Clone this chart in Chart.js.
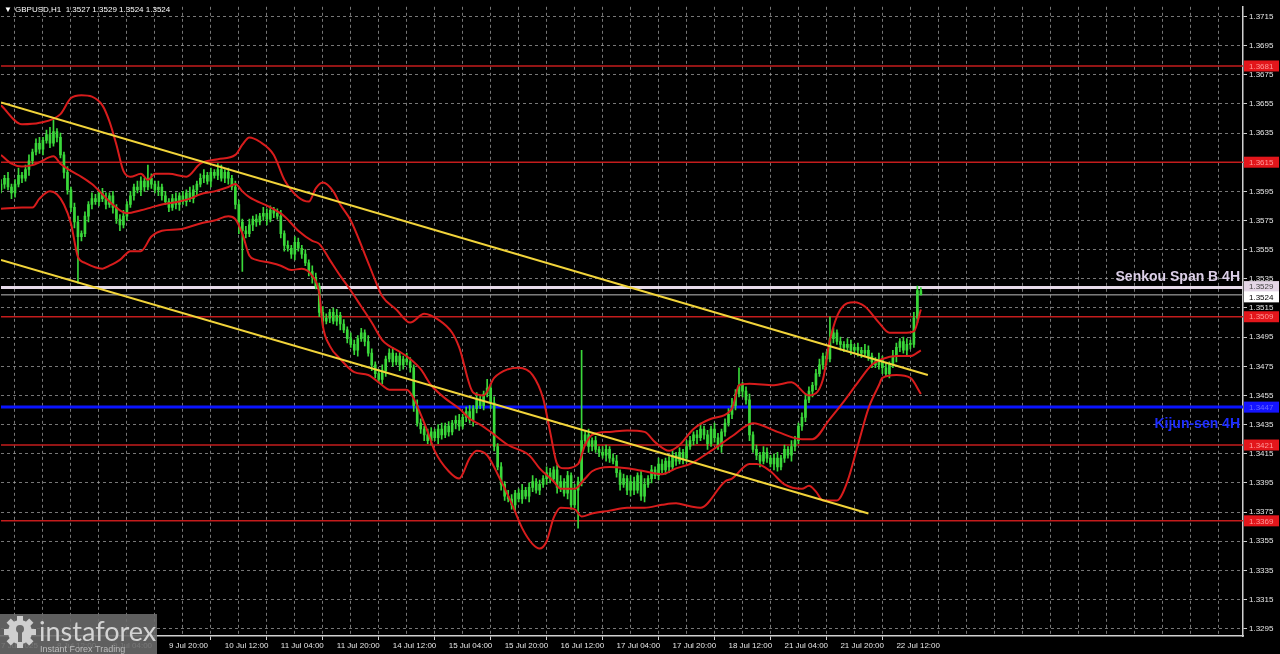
<!DOCTYPE html>
<html>
<head>
<meta charset="utf-8">
<script src="https://cdn.jsdelivr.net/npm/chart.js@4.4.1/dist/chart.umd.min.js"></script>
<style>
  html, body { margin: 0; padding: 0; background: #000; }
  #wrap { width: 1280px; height: 654px; }
</style>
</head>
<body>
<div id="wrap"><canvas id="grafico" width="1280" height="654"></canvas></div>
<script>
// GBPUSD H1, prices in pips above 1.3000
const firstOpenPips = 596;
const closePips = [
  600, 604, 598, 594, 600, 606, 604, 610, 616, 622,
  628, 624, 630, 634, 628, 636, 632, 620, 608, 596,
  584, 574, 564, 566, 578, 586, 590, 588, 594, 590,
  586, 592, 584, 576, 572, 578, 586, 592, 598, 596,
  602, 598, 604, 600, 596, 598, 592, 588, 584, 590,
  586, 592, 588, 594, 590, 596, 600, 604, 606, 602,
  608, 606, 610, 604, 608, 604, 598, 586, 574, 568,
  566, 572, 576, 574, 578, 580, 576, 582, 580, 578,
  566, 558, 556, 552, 560, 556, 552, 546, 540, 536,
  530, 512, 506, 508, 512, 506, 510, 504, 500, 494,
  490, 486, 494, 498, 492, 484, 476, 470, 466, 472,
  480, 484, 478, 482, 476, 480, 478, 474, 448, 436,
  432, 428, 424, 430, 426, 432, 428, 434, 430, 436,
  438, 434, 440, 444, 438, 446, 452, 448, 456, 460,
  450, 420, 406, 394, 386, 384, 380, 388, 384, 390,
  386, 392, 396, 390, 394, 398, 402, 398, 404, 392,
  396, 388, 400, 380, 390, 396, 424, 428, 420, 424,
  418, 416, 414, 418, 412, 410, 402, 394, 398, 390,
  396, 390, 400, 386, 394, 398, 404, 400, 408, 404,
  410, 406, 414, 410, 416, 412, 420, 424, 428, 426,
  432, 428, 422, 432, 426, 420, 430, 436, 442, 448,
  456, 462, 458, 452, 428, 418, 414, 410, 416, 412,
  408, 412, 406, 412, 418, 414, 420, 424, 434, 440,
  452, 458, 462, 470, 476, 482, 480, 494, 498, 492,
  490, 488, 490, 486, 488, 486, 484, 486, 482, 478,
  476, 480, 474, 470, 476, 482, 488, 492, 486, 490,
  490, 508, 527, 524
];
const wickUp = [
  3,2,4,2,3,5,2,3,4,2, 3,4,2,3,5,8,2,3,2,4, 2,3,4,2,3,2,4,3,2,3, 4,2,3,2,3,4,2,3,2,4,
  3,2,9,3,2,4,2,3,2,3, 4,2,3,2,4,3,2,3,4,2, 3,2,4,3,2,3,2,4,3,2, 3,4,2,3,2,4,3,3,2,3,
  4,2,3,2,4,3,2,3,2,4, 3,2,4,3,2,3,4,2,3,2, 4,3,2,3,2,4,3,2,3,4, 2,3,4,2,3,2,4,3,2,4,
  3,2,4,3,2,3,4,2,3,2, 3,4,2,3,4,2,5,3,2,6, 3,4,2,3,2,4,3,2,3,4, 2,3,4,2,3,2,4,3,2,3,
  4,2,3,2,4,3,62,3,4,2, 3,2,4,3,2,3,4,2,3,2, 4,3,2,3,4,2,3,2,4,3, 2,3,4,2,3,2,4,3,2,3,
  4,2,3,2,4,3,2,3,4,5, 3,12,2,3,4,2,3,2,4,3, 2,3,4,2,3,2,4,3,2,3, 4,3,2,3,4,2,3,15,3,2,
  3,2,4,3,2,3,2,4,3,2, 3,4,2,3,2,4,3,2,3,4, 3,4,3,2
];
const wickDn = [
  2,3,2,4,3,2,3,2,4,3, 2,3,4,2,3,2,3,2,4,3, 3,4,32,3,2,4,3,2,3,2, 3,2,4,3,4,2,3,2,3,2,
  4,3,2,3,2,4,3,2,3,2, 3,4,2,3,2,3,4,2,3,2, 4,2,3,2,3,4,2,3,8,28, 3,2,4,3,2,3,4,2,3,2,
  3,4,2,3,4,2,3,2,3,4, 2,3,4,2,3,2,3,4,2,3, 2,3,4,2,3,2,4,3,2,3, 4,2,3,2,4,3,2,3,4,2,
  3,4,2,3,2,4,3,2,3,2, 4,3,2,3,2,4,3,2,3,2, 4,3,2,4,3,2,3,4,2,3, 2,4,3,2,3,2,4,3,2,4,
  3,2,4,3,2,26,3,2,4,3, 2,3,2,4,3,2,3,4,2,3, 4,3,2,3,4,2,3,2,3,2, 3,4,2,3,2,4,3,2,3,4,
  2,3,4,2,3,2,4,3,2,3, 3,2,4,3,4,2,3,4,2,3, 2,4,3,2,3,2,4,3,2,3, 3,2,4,3,2,3,4,2,3,2,
  4,3,2,3,2,4,3,2,3,4, 2,3,4,2,3,2,4,3,2,3, 3,2,3,0
];

// bands: [bar, price]
const upperBand = [[0,1.3654],[6,1.3641],[11,1.3642],[17,1.3648],[20,1.3659],[23,1.3661],[26,1.3660],[29,1.3654],[31,1.3643],[33,1.3627],[35,1.3609],[37,1.3605],[40,1.3607],[42,1.3603],[44,1.3607],[48,1.3607],[53,1.3605],[57,1.3614],[62,1.3617],[67,1.3620],[69,1.3627],[71,1.3632],[74,1.3629],[78,1.3620],[81,1.3603],[85,1.3591],[88,1.3588],[90,1.3597],[92,1.3601],[95,1.3595],[97,1.3586],[100,1.3575],[104,1.3552],[107,1.3534],[109,1.3523],[113,1.3514],[117,1.3505],[121,1.3511],[125,1.3507],[129,1.3498],[131,1.3488],[135,1.3457],[138,1.3455],[141,1.3467],[145,1.3473],[148,1.3474],[152,1.3469],[155,1.3453],[157,1.3430],[159,1.3408],[161,1.3405],[165,1.3408],[167,1.3421],[169,1.3428],[174,1.3430],[179,1.3431],[184,1.3430],[187,1.3423],[191,1.3417],[194,1.3421],[198,1.3432],[203,1.3439],[209,1.3446],[211,1.3462],[214,1.3463],[221,1.3462],[226,1.3464],[231,1.3455],[235,1.3466],[237,1.3493],[240,1.3514],[244,1.3519],[247,1.3516],[251,1.3505],[254,1.3498],[258,1.3498],[261,1.3499],[263,1.3514]];
const midBand = [[0,1.3620],[3,1.3614],[6,1.3612],[9,1.3613],[11,1.3615],[15,1.3619],[17,1.3614],[20,1.3609],[23,1.3605],[26,1.3600],[29,1.3593],[31,1.3588],[34,1.3582],[36,1.3580],[40,1.3582],[43,1.3584],[46,1.3586],[51,1.3588],[54,1.3590],[57,1.3593],[61,1.3595],[65,1.3598],[67,1.3600],[69,1.3595],[71,1.3591],[77,1.3584],[81,1.3578],[85,1.3568],[89,1.3561],[91,1.3559],[94,1.3548],[97,1.3537],[100,1.3527],[103,1.3516],[106,1.3505],[109,1.3493],[111,1.3489],[114,1.3485],[117,1.3480],[120,1.3473],[123,1.3462],[127,1.3453],[131,1.3446],[134,1.3439],[137,1.3435],[140,1.3430],[145,1.3421],[151,1.3414],[154,1.3405],[158,1.3396],[160,1.3391],[164,1.3391],[167,1.3398],[169,1.3403],[174,1.3406],[179,1.3405],[184,1.3403],[189,1.3401],[193,1.3405],[197,1.3408],[203,1.3417],[209,1.3427],[215,1.3436],[222,1.3430],[229,1.3425],[232,1.3425],[237,1.3439],[241,1.3451],[245,1.3464],[249,1.3476],[252,1.3480],[256,1.3482],[260,1.3482],[263,1.3486]];
const lowBand = [[0,1.3583],[6,1.3584],[9,1.3584],[11,1.3590],[14,1.3595],[16,1.3593],[18,1.3586],[20,1.3573],[22,1.3550],[24,1.3546],[29,1.3542],[31,1.3544],[34,1.3548],[37,1.3554],[40,1.3554],[43,1.3564],[46,1.3568],[51,1.3569],[57,1.3573],[61,1.3575],[65,1.3578],[67,1.3576],[69,1.3566],[71,1.3551],[73,1.3548],[77,1.3546],[80,1.3544],[83,1.3541],[86,1.3542],[89,1.3537],[91,1.3525],[92,1.3503],[94,1.3489],[97,1.3480],[101,1.3471],[105,1.3469],[109,1.3462],[111,1.3459],[116,1.3459],[118,1.3453],[120,1.3442],[122,1.3430],[124,1.3417],[128,1.3403],[131,1.3398],[134,1.3412],[136,1.3417],[139,1.3414],[142,1.3401],[146,1.3381],[149,1.3364],[152,1.3353],[154,1.3350],[156,1.3355],[158,1.3371],[160,1.3378],[164,1.3377],[166,1.3372],[169,1.3374],[174,1.3376],[179,1.3378],[184,1.3378],[189,1.3380],[193,1.3381],[197,1.3379],[200,1.3378],[207,1.3396],[209,1.3398],[214,1.3408],[216,1.3408],[220,1.3403],[224,1.3394],[229,1.3391],[231,1.3393],[233,1.3389],[235,1.3383],[239,1.3383],[242,1.3396],[245,1.3421],[248,1.3446],[251,1.3462],[252,1.3467],[256,1.3469],[260,1.3467],[263,1.3456]];

// trend channel: [bar, price] ends
const channelTop = [[0, 1.3656], [265, 1.3469]];
const channelBottom = [[0, 1.3548], [248, 1.3374]];

const redLevels = [1.3681, 1.3615, 1.3509, 1.3421, 1.3369];
const kijunLevel = 1.3447;
const senkouLevel = 1.3529;
const lastPrice = 1.3524;

const priceTicks = [1.3295, 1.3315, 1.3335, 1.3355, 1.3375, 1.3395, 1.3415, 1.3435, 1.3455, 1.3475, 1.3495,
  1.3515, 1.3535, 1.3555, 1.3575, 1.3595, 1.3615, 1.3635, 1.3655, 1.3675, 1.3695, 1.3715];
// one label every 16 bars from bar 0
const timeLabels = ['7 Jul 2025', '8 Jul 12:00', '9 Jul 04:00', '9 Jul 20:00', '10 Jul 12:00', '11 Jul 04:00',
  '11 Jul 20:00', '14 Jul 12:00', '15 Jul 04:00', '15 Jul 20:00', '16 Jul 12:00', '17 Jul 04:00',
  '17 Jul 20:00', '18 Jul 12:00', '21 Jul 04:00', '21 Jul 20:00', '22 Jul 12:00'];
const titleText = 'GBPUSD,H1  1.3527 1.3529 1.3524 1.3524';

const slotCount = 355.1;
const candleColor = '#3ad83a';
const axisFont = { family: 'Liberation Sans', size: 8 };

const toPrice = p => 1.3 + p / 10000;
const opens = closePips.map((c, i) => i === 0 ? firstOpenPips : closePips[i - 1]);

const wickData = closePips.map((c, i) => ({
  x: i,
  y: [toPrice(Math.min(opens[i], c) - wickDn[i]), toPrice(Math.max(opens[i], c) + wickUp[i])]
}));
const bodyData = closePips.map((c, i) => ({ x: i, y: [toPrice(opens[i]), toPrice(c)] }));

function pairs(arr) {
  return arr.map(p => ({ x: p[0], y: p[1] }));
}

function levelLine(value, color, width, order) {
  return {
    type: 'line',
    data: [{ x: 0, y: value }, { x: slotCount, y: value }],
    borderColor: color,
    borderWidth: width,
    pointRadius: 0,
    order
  };
}

function bandLine(arr) {
  return {
    type: 'line',
    data: pairs(arr),
    borderColor: '#d81c1c',
    borderWidth: 2,
    pointRadius: 0,
    cubicInterpolationMode: 'monotone',
    order: 2
  };
}

function channelLine(arr) {
  return {
    type: 'line',
    data: pairs(arr),
    borderColor: '#f2d43a',
    borderWidth: 2,
    pointRadius: 0,
    order: 1
  };
}

const gridBars = [];
for (let b = 0; b < slotCount; b += 8) gridBars.push(b);

function boxLabel(ctx, y, text, fill, color) {
  ctx.fillStyle = fill;
  ctx.fillRect(1244, y - 5.5, 35, 11);
  ctx.fillStyle = color;
  ctx.font = '8px "Liberation Sans"';
  ctx.textAlign = 'left';
  ctx.textBaseline = 'middle';
  ctx.fillText(text, 1249, y + 0.5);
}

const overlay = {
  id: 'overlay',
  afterDatasetsDraw(chart) {
    const ctx = chart.ctx;
    const y = chart.scales.y;
    ctx.save();
    ctx.textAlign = 'right';
    ctx.textBaseline = 'alphabetic';
    ctx.font = 'bold 14px "Liberation Sans"';
    ctx.fillStyle = '#dccfe8';
    ctx.fillText('Senkou Span B 4H', 1240, y.getPixelForValue(senkouLevel) - 7);
    ctx.fillStyle = '#1c2cff';
    ctx.fillText('Kijun-sen 4H', 1240, y.getPixelForValue(kijunLevel) + 21);
    ctx.restore();
  },
  afterDraw(chart) {
    const ctx = chart.ctx;
    const y = chart.scales.y;
    ctx.save();
    redLevels.forEach(v => boxLabel(ctx, y.getPixelForValue(v), v.toFixed(4), '#e3161b', '#ff9a9a'));
    boxLabel(ctx, y.getPixelForValue(kijunLevel), kijunLevel.toFixed(4), '#1414ff', '#6a6aff');
    boxLabel(ctx, y.getPixelForValue(senkouLevel) - 1, senkouLevel.toFixed(4), '#e4d6e6', '#444');
    boxLabel(ctx, y.getPixelForValue(lastPrice) + 2, lastPrice.toFixed(4), '#ffffff', '#000');

    // title
    ctx.fillStyle = '#ffffff';
    ctx.font = '8px "Liberation Sans"';
    ctx.textAlign = 'left';
    ctx.textBaseline = 'alphabetic';
    ctx.fillText('\u25BC', 4, 12);
    ctx.fillText(titleText, 15, 12);

    // watermark
    ctx.fillStyle = 'rgba(105,105,105,0.9)';
    ctx.fillRect(0, 614, 157, 40);
    ctx.fillStyle = '#cfcfcf';
    ctx.beginPath();
    ctx.arc(20, 632, 12, 0, Math.PI * 2);
    ctx.fill();
    for (let k = 0; k < 8; k++) {
      const a = k * Math.PI / 4;
      ctx.save();
      ctx.translate(20, 632);
      ctx.rotate(a);
      ctx.fillRect(-3, -16, 6, 6);
      ctx.restore();
    }
    ctx.fillStyle = 'rgba(105,105,105,1)';
    ctx.beginPath();
    ctx.arc(20, 629, 4, 0, Math.PI * 2);
    ctx.fill();
    ctx.fillRect(18, 632, 4, 10);
    ctx.fillStyle = '#d4d4d4';
    ctx.font = '27px Lato';
    ctx.fillText('instaforex', 39, 641);
    ctx.font = '9px "Liberation Sans"';
    ctx.fillStyle = '#bdbdbd';
    ctx.fillText('Instant Forex Trading', 40, 652);
    ctx.restore();
  }
};

new Chart(document.getElementById('grafico'), {
  type: 'bar',
  data: {
    datasets: [
      channelLine(channelTop),
      channelLine(channelBottom),
      bandLine(upperBand),
      bandLine(midBand),
      bandLine(lowBand),
      {
        data: bodyData,
        backgroundColor: candleColor,
        barThickness: 2,
        grouped: false,
        minBarLength: 1,
        order: 3
      },
      {
        data: wickData,
        backgroundColor: candleColor,
        barThickness: 1,
        grouped: false,
        order: 4
      },
      levelLine(senkouLevel, '#e6dae9', 3, 5),
      levelLine(lastPrice, '#bdbdbd', 1, 5),
      levelLine(kijunLevel, '#0a14ff', 3, 5),
      ...redLevels.map(v => levelLine(v, '#c41c1c', 1.5, 6))
    ]
  },
  options: {
    responsive: false,
    animation: false,
    events: [],
    layout: { padding: { top: 1, left: 0, right: 0, bottom: 0 } },
    plugins: { legend: { display: false }, tooltip: { enabled: false } },
    scales: {
      x: {
        type: 'linear',
        min: 0,
        max: slotCount,
        offset: false,
        afterBuildTicks: s => { s.ticks = gridBars.map(v => ({ value: v })); },
        afterFit: s => { s.height = 18; },
        grid: {
          color: 'rgba(170,170,170,0.7)',
          lineWidth: 1,
          tickLength: 4,
          tickColor: c => (c.tick && c.tick.value % 16 === 0 && c.tick.value / 16 < timeLabels.length) ? '#d0d0d0' : 'rgba(0,0,0,0)'
        },
        border: { display: true, color: '#d0d0d0', width: 1.5, dash: [3, 3] },
        ticks: {
          autoSkip: false,
          maxRotation: 0,
          align: 'start',
          padding: 1,
          color: '#e6e6e6',
          font: axisFont,
          callback: v => (v % 16 === 0 && timeLabels[v / 16]) ? timeLabels[v / 16] : ''
        }
      },
      y: {
        position: 'right',
        min: 1.3290,
        max: 1.37216,
        afterBuildTicks: s => { s.ticks = priceTicks.map(v => ({ value: v })); },
        afterFit: s => { s.width = 37; },
        grid: { color: 'rgba(170,170,170,0.7)', lineWidth: 1, tickLength: 4, tickColor: '#d0d0d0' },
        border: { display: true, color: '#d0d0d0', width: 1.5, dash: [3, 3] },
        ticks: {
          padding: 2,
          color: '#e6e6e6',
          font: axisFont,
          callback: v => v.toFixed(4)
        }
      }
    }
  },
  plugins: [overlay]
});
</script>
</body>
</html>
